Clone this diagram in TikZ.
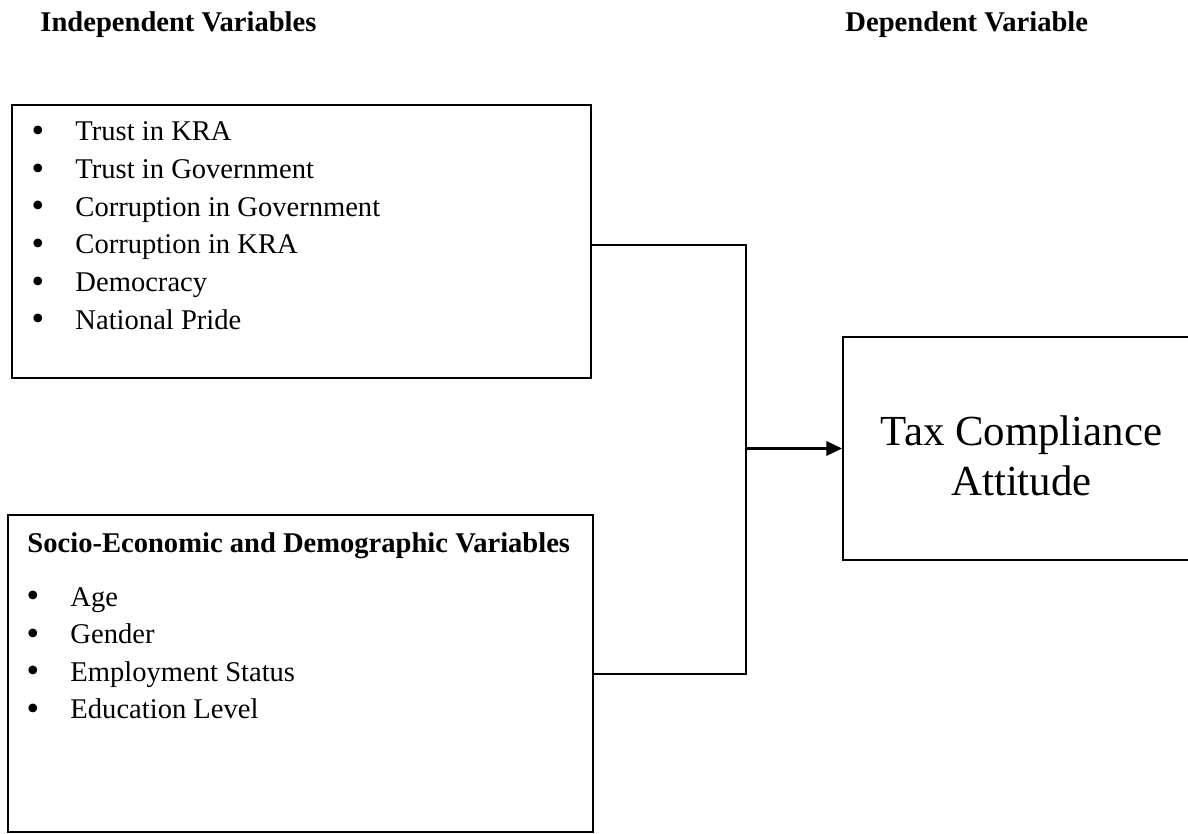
\documentclass[tikz,border=0pt]{standalone}
\usepackage{fontspec}
\setmainfont{Liberation Serif}
\newfontfamily\dotfont{DejaVu Sans}
\usetikzlibrary{arrows.meta,positioning}

\begin{document}
\begin{tikzpicture}[x=0.42pt,y=-0.42pt,
    box/.style={draw,line width=0.9pt,inner sep=0pt},
    head/.style={font=\bfseries\fontsize{12}{14}\selectfont,anchor=base west,inner sep=0pt},
    item/.style={font=\fontsize{12}{14}\selectfont,anchor=base west,inner sep=0pt},
    dot/.style={font=\dotfont\fontsize{12.5}{14}\selectfont,inner sep=0pt},
    link/.style={line width=0.9pt}]
    \useasboundingbox (0,0) rectangle (1188,833);

    \node[head] (indhead) at (40,32) {Independent Variables};
    \node[head] (dephead) at (845,32) {Dependent Variable};

    % independent variables
    \node[box,minimum width=579*0.42pt,minimum height=273*0.42pt] (ind) at (301.5,241.5) {};
    \foreach \t [count=\i] in {Trust in KRA,Trust in Government,Corruption in Government,Corruption in KRA,Democracy,National Pride}{
        \node[dot] (inddot\i) at (38,134+37.6*\i-37.6) {•};
        \node[item] (inditem\i) at (75,141+37.6*\i-37.6) {\t};
    }

    % socio-economic variables
    \node[box,minimum width=585*0.42pt,minimum height=317*0.42pt] (soc) at (300.5,673.5) {};
    \node[head] (sochead) at (27,552) {Socio-Economic and Demographic Variables};
    \foreach \t [count=\i] in {Age,Gender,Employment Status,Education Level}{
        \node[dot] (socdot\i) at (33,599+37.6*\i-37.6) {•};
        \node[item] (socitem\i) at (70,606+37.6*\i-37.6) {\t};
    }

    % dependent variable
    \node[box,minimum width=357*0.42pt,minimum height=223*0.42pt] (dep) at (1021.5,448.5) {};
    \node[align=center,font=\fontsize{18}{21}\selectfont] (deptext) at (1021.5,456) {Tax Compliance\\Attitude};

    \coordinate (j1) at (746,245);
    \coordinate (j2) at (746,674);
    \draw[link] (ind.east |- j1) -- (j1) -- (j2) -- (soc.east |- j2);
    \draw[link,-{Triangle[length=6.5pt,width=6pt]}] (j1 |- dep.west) -- (dep.west);
\end{tikzpicture}
\end{document}
